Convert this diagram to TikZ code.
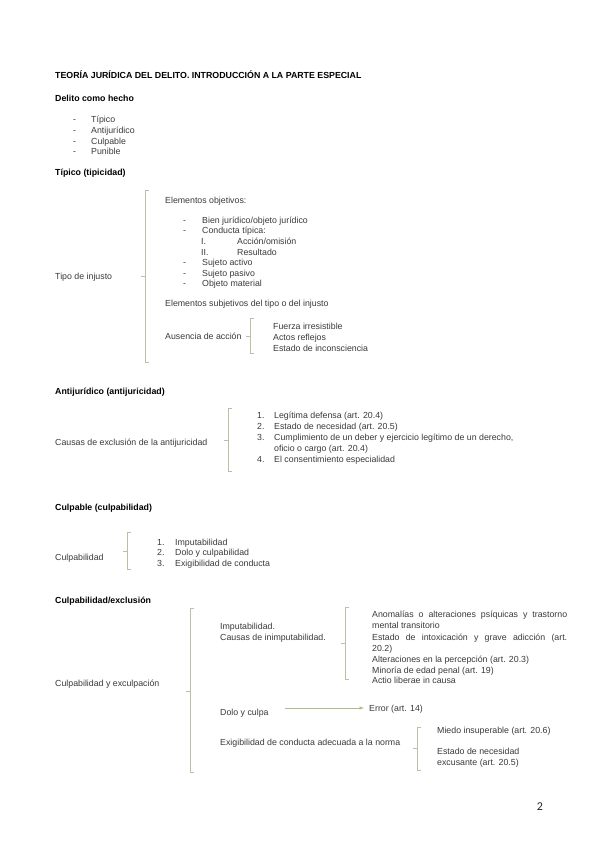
\documentclass[tikz,border=0pt]{standalone}
\usepackage{fontspec}
\setmainfont{Liberation Sans}
\newfontfamily\pagefont{Carlito}
\usetikzlibrary{arrows.meta}

\definecolor{brkGreen}{HTML}{B5C3A2}
\definecolor{arrGreen}{HTML}{A9BE8C}
\definecolor{txtGray}{HTML}{3A3A3A}

% bracket: x, top, bottom, middle
\newcommand{\corchete}[4]{%
  \draw[brk] (#1+4,#2) -- (#1,#2) -- (#1,#3) -- (#1+4,#3);
  \draw[brk] (#1,#4) -- (#1-4,#4);
}

\begin{document}
\begin{tikzpicture}[
    x=1pt, y=-1pt,
    txt/.style={font=\fontsize{8.8}{10.5}\selectfont, text=txtGray, inner sep=0pt, anchor=base west},
    hdr/.style={font=\fontsize{8.8}{10.5}\selectfont\bfseries, text=black, inner sep=0pt, anchor=base west},
    brk/.style={brkGreen, line width=0.6pt},
]

\useasboundingbox[fill=white] (0,0) rectangle (599,848);

% Titles
\node[hdr] (titulo) at (55,79) {TEORÍA JURÍDICA DEL DELITO. INTRODUCCIÓN A LA PARTE ESPECIAL};
\node[hdr] (hecho) at (55,102) {Delito como hecho};

% Delito como hecho
\node[txt] (tipico) at (73,123) {\makebox[18pt][l]{-}Típico};
\node[txt] (antij) at (73,134) {\makebox[18pt][l]{-}Antijurídico};
\node[txt] (culp) at (73,144) {\makebox[18pt][l]{-}Culpable};
\node[txt] (pun) at (73,154) {\makebox[18pt][l]{-}Punible};

% Tipicidad
\node[hdr] (hTipico) at (55,175) {Típico (tipicidad)};
\node[txt] (injusto) at (55,279) {Tipo de injusto};
\corchete{145}{190}{362}{276}

\node[txt] (objetivos) at (165,203) {Elementos objetivos:};
\node[txt] (bien) at (183,223) {\makebox[19pt][l]{-}Bien jurídico/objeto jurídico};
\node[txt] (conducta) at (183,233) {\makebox[19pt][l]{-}Conducta típica:};
\node[txt] (accion) at (201,244) {\makebox[36pt][l]{I.}Acción/omisión};
\node[txt] (result) at (201,255) {\makebox[36pt][l]{II.}Resultado};
\node[txt] (activo) at (183,265) {\makebox[19pt][l]{-}Sujeto activo};
\node[txt] (pasivo) at (183,276) {\makebox[19pt][l]{-}Sujeto pasivo};
\node[txt] (material) at (183,286) {\makebox[19pt][l]{-}Objeto material};
\node[txt] (subjetivos) at (165,306) {Elementos subjetivos del tipo o del injusto};

\node[txt] (ausencia) at (165,339) {Ausencia de acción};
\corchete{250}{318}{353}{336}
\node[txt] (fuerza) at (273,329) {Fuerza irresistible};
\node[txt] (reflejos) at (273,340) {Actos reflejos};
\node[txt] (incons) at (273,351) {Estado de inconsciencia};

% Antijuricidad
\node[hdr] (hAntij) at (55,394) {Antijurídico (antijuricidad)};
\node[txt] (causasEx) at (55,445) {Causas de exclusión de la antijuricidad};
\corchete{228}{408}{471}{440}
\node[txt] (legitima) at (257,418) {\makebox[17pt][l]{1.}Legítima defensa (art. 20.4)};
\node[txt] (necesidad) at (257,429) {\makebox[17pt][l]{2.}Estado de necesidad (art. 20.5)};
\node[txt] (deber) at (257,440) {\makebox[17pt][l]{3.}Cumplimiento de un deber y ejercicio legítimo de un derecho,};
\node[txt] (oficio) at (274,451) {oficio o cargo (art. 20.4)};
\node[txt] (consent) at (257,462) {\makebox[17pt][l]{4.}El consentimiento especialidad};

% Culpabilidad
\node[hdr] (hCulp) at (55,510) {Culpable (culpabilidad)};
\node[txt] (culpab) at (55,560) {Culpabilidad};
\corchete{127}{532}{569}{551}
\node[txt] (imput) at (157,545) {\makebox[18pt][l]{1.}Imputabilidad};
\node[txt] (dolo) at (157,555) {\makebox[18pt][l]{2.}Dolo y culpabilidad};
\node[txt] (exig) at (157,566) {\makebox[18pt][l]{3.}Exigibilidad de conducta};

% Culpabilidad / exclusion
\node[hdr] (hExcl) at (55,603) {Culpabilidad/exclusión};
\node[txt] (exculp) at (55,686) {Culpabilidad y exculpación};
\corchete{190}{608}{772}{691}

\node[txt] (imputab) at (220,629) {Imputabilidad.};
\node[txt] (inimput) at (220,640) {Causas de inimputabilidad.};
\corchete{345}{607}{679}{643}
\node[txt] (anomal) at (372,617) {\makebox[195pt][s]{Anomalías o alteraciones psíquicas y trastorno}};
\node[txt] (mental) at (372,628) {mental transitorio};
\node[txt] (intox) at (372,640) {\makebox[195pt][s]{Estado de intoxicación y grave adicción (art.}};
\node[txt] (art202) at (372,651) {20.2)};
\node[txt] (percep) at (372,662) {Alteraciones en la percepción (art. 20.3)};
\node[txt] (minoria) at (372,673) {Minoría de edad penal (art. 19)};
\node[txt] (actio) at (372,683) {Actio liberae in causa};

\node[txt] (doloCulpa) at (220,715) {Dolo y culpa};
\node[txt] (error) at (369,711) {Error (art. 14)};
\coordinate (arrStart) at (285,708);
\draw[arrGreen, line width=0.6pt, shorten >=5pt, -{Latex[length=4.5pt,width=3.5pt]}]
    (arrStart) -- (error.west |- arrStart);

\node[txt] (exigAdec) at (220,745) {Exigibilidad de conducta adecuada a la norma};
\corchete{417}{727}{770}{748}
\node[txt] (miedo) at (437,733) {Miedo insuperable (art. 20.6)};
\node[txt] (estNec) at (437,754) {Estado de necesidad};
\node[txt] (excus) at (437,765) {excusante (art. 20.5)};

% page number
\node[font=\pagefont\fontsize{12}{14}\selectfont, text=black!85, inner sep=0pt, anchor=base] (pagina) at (540,810) {2};

\end{tikzpicture}
\end{document}
